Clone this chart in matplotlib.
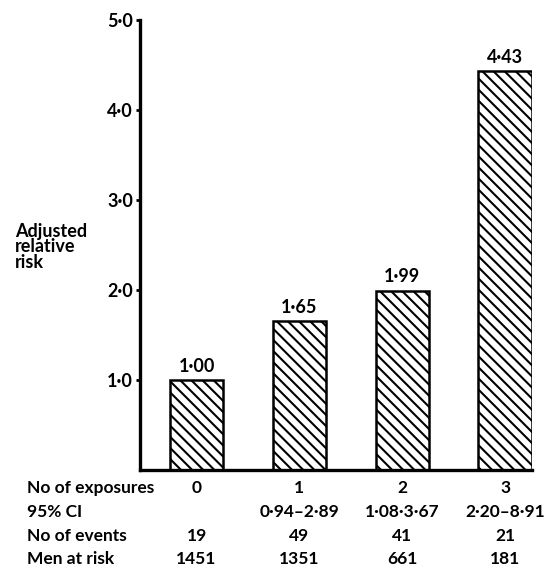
import matplotlib
matplotlib.use("Agg")
import matplotlib.pyplot as plt
from matplotlib.transforms import blended_transform_factory

# data
exposures = [0, 1, 2, 3]
risk = [1.00, 1.65, 1.99, 4.43]
risk_labels = ["1·00", "1·65", "1·99", "4·43"]
ci_labels = ["", "0·94–2·89", "1·08·3·67", "2·20–8·91"]
events = [19, 49, 41, 21]
men_at_risk = [1451, 1351, 661, 181]
yticks = [1, 2, 3, 4, 5]
ytick_labels = ["1·0", "2·0", "3·0", "4·0", "5·0"]

plt.rcParams["font.family"] = ["Lato", "DejaVu Sans"]
plt.rcParams["font.weight"] = "bold"
plt.rcParams["hatch.linewidth"] = 1.5

fig = plt.figure(figsize=(5.49, 5.69), dpi=100)
ax = fig.add_axes([0.255, 0.174, 0.714, 0.791])

ax.bar(exposures, risk, width=0.52, color="white", edgecolor="black",
       linewidth=1.8, hatch="\\\\\\")

for x, v, lab in zip(exposures, risk, risk_labels):
    ax.text(x, v + 0.06, lab, ha="center", va="bottom", fontsize=13)

ax.set_xlim(-0.55, 3.26)
ax.set_ylim(0, 5.0)
ax.set_yticks(yticks)
ax.set_yticklabels(ytick_labels, fontsize=13)
ax.set_xticks([])
ax.tick_params(axis="y", length=3, width=2, pad=2)
for s in ["top", "right"]:
    ax.spines[s].set_visible(False)
ax.spines["left"].set_linewidth(2.4)
ax.spines["bottom"].set_linewidth(2.4)

fig.text(0.027, 0.566, "Adjusted\nrelative\nrisk", ha="left", va="center",
         fontsize=13, linespacing=0.9)

# table below the bars
tr = blended_transform_factory(ax.transData, fig.transFigure)
row_names = ["No of exposures", "95% CI", "No of events", "Men at risk"]
rows = [[str(e) for e in exposures], ci_labels,
        [str(e) for e in events], [str(m) for m in men_at_risk]]
row_y = [1 - 488 / 569, 1 - 512 / 569, 1 - 536 / 569, 1 - 559 / 569]
for name, vals, y in zip(row_names, rows, row_y):
    fig.text(0.049, y, name, ha="left", va="center", fontsize=12.5)
    for x, v in zip(exposures, vals):
        ax.text(x, y, v, transform=tr, ha="center", va="center", fontsize=12.5)

fig.savefig("out.png", dpi=100)
